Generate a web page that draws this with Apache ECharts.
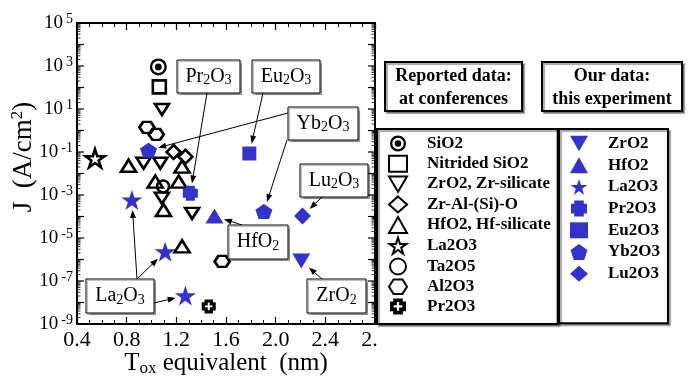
<!DOCTYPE html>
<html><head><meta charset="utf-8">
<script src="https://cdn.jsdelivr.net/npm/echarts@6/dist/echarts.min.js"></script>
<style>html,body{margin:0;padding:0;background:#fff}#c{width:689px;height:377px}</style>
</head><body><div id="c"></div>
<script>
// ---- Data: [Tox equivalent (nm), J (A/cm2)] ----
// Reported data at conferences
const sio2 = [[1.055, 910]];
const nitridedSio2 = [[1.063, 107]];
const zro2Silicate = [[1.084, 9.5], [0.936, 0.030], [1.071, 0.030], [1.084, 7.1e-4], [1.327, 1.4e-4]];
const zrAlSiO = [[1.178, 0.10], [1.273, 0.060]];
const hfo2Silicate = [[0.815, 0.023], [1.246, 0.021], [1.03, 0.0042], [1.219, 0.0042], [1.097, 2.0e-4], [1.246, 4.1e-6]];
const la2o3Reported = [[0.545, 0.051]];
const ta2o5 = [[1.093, 0.0025]];
const al2o3 = [[0.963, 1.4], [1.038, 0.66], [1.569, 8.1e-7]];
const pr2o3Reported = [[1.461, 6.6e-9]];
// Our data: this experiment
const zro2Ours = [[2.206, 8.5e-7]];
const hfo2Ours = [[1.507, 1.05e-4]];
const la2o3Ours = [[0.842, 5.9e-4], [1.11, 2.3e-6], [1.273, 2.1e-8]];
const pr2o3Ours = [[1.313, 0.0012]];
const eu2o3Ours = [[1.788, 0.085]];
const yb2o3Ours = [[0.976, 0.12], [1.905, 1.7e-4]];
const lu2o3Ours = [[2.216, 1.05e-4]];
// Axis ticks
const xMin = 0.4, xMax = 2.8, xStep = 0.4;
const yMinExp = -9, yMaxExp = 5;

const FONT = 'Liberation Serif';
const BLUE = '#3333cc';
const SYM = {
  ringDot: 'path://M10,0A10,10 0 1,1 10,20A10,10 0 1,1 10,0Z M10,2.8A7.2,7.2 0 1,0 10,17.2A7.2,7.2 0 1,0 10,2.8Z M10,6A4,4 0 1,1 10,14A4,4 0 1,1 10,6Z',
  downTri: 'path://M0,0L20,0L10,17Z',
  star: 'path://M50,0L61.23,34.55L97.55,34.55L68.17,55.9L79.39,90.45L50,69.1L20.61,90.45L31.83,55.9L2.45,34.55L38.77,34.55Z',
  pentagon: 'path://M50,0L97.55,34.55L79.39,90.45L20.61,90.45L2.45,34.55Z',
  hexagon: 'path://M5,0L15,0L20,8L15,16L5,16L0,8Z',
  plus: 'path://M2,0H8V2H10V8H8V10H2V8H0V2H2Z',
  plusHole: 'path://M2,0H8V2H10V8H8V10H2V8H0V2H2Z M4.3,2.3V4.3H2.3V5.7H4.3V7.7H5.7V5.7H7.7V4.3H5.7V2.3Z'
};

function openS(name, data, symbol, size) {
  return {type: 'scatter', name, data, symbol, symbolSize: size, z: 3,
    itemStyle: {color: 'rgba(255,255,255,0)', borderColor: '#000', borderWidth: 2.6, opacity: 1}};
}
function blackS(name, data, symbol, size) {
  return {type: 'scatter', name, data, symbol, symbolSize: size, z: 3,
    itemStyle: {color: '#000', borderWidth: 0, opacity: 1}};
}
function blueS(name, data, symbol, size) {
  return {type: 'scatter', name: 'our:' + name, data, symbol, symbolSize: size, z: 4,
    itemStyle: {color: BLUE, borderWidth: 0, opacity: 1}};
}

const series = [
  blackS('SiO2', sio2, SYM.ringDot, 17),
  openS('Nitrided SiO2', nitridedSio2, 'rect', 13),
  openS('ZrO2, Zr-silicate', zro2Silicate, SYM.downTri, [14, 11]),
  openS('Zr-Al-(Si)-O', zrAlSiO, 'diamond', 14),
  openS('HfO2, Hf-silicate', hfo2Silicate, 'triangle', [15, 12]),
  openS('La2O3', la2o3Reported, SYM.star, [19, 18]),
  openS('Ta2O5', ta2o5, 'circle', 12),
  openS('Al2O3', al2o3, SYM.hexagon, [15, 11]),
  blackS('Pr2O3', pr2o3Reported, SYM.plusHole, 14),
  blueS('ZrO2', zro2Ours, SYM.downTri, [18, 15]),
  blueS('HfO2', hfo2Ours, 'triangle', [18, 15]),
  blueS('La2O3', la2o3Ours, SYM.star, [21, 20]),
  blueS('Pr2O3', pr2o3Ours, SYM.plus, 15),
  blueS('Eu2O3', eu2o3Ours, 'rect', 14),
  blueS('Yb2O3', yb2o3Ours, SYM.pentagon, [17, 15]),
  blueS('Lu2O3', lu2o3Ours, 'diamond', 17)
];

const axisLine = {show: true, onZero: false, lineStyle: {color: '#000', width: 2}};
const xAxisBase = {type: 'value', min: xMin, max: xMax, interval: xStep,
  axisLine, splitLine: {show: false},
  axisTick: {inside: true, length: 7, lineStyle: {color: '#000', width: 1.2}},
  minorTick: {show: true, splitNumber: 4, length: 4, lineStyle: {color: '#000', width: 1}}};
const yAxisBase = {type: 'log', logBase: 10, min: Math.pow(10, yMinExp), max: Math.pow(10, yMaxExp),
  interval: 1, splitNumber: 14, axisLine, splitLine: {show: false},
  axisTick: {show: false}, minorTick: {show: false}};

const chart = echarts.init(document.getElementById('c'));
chart.setOption({
  animation: false,
  backgroundColor: '#fff',
  grid: {left: 77, right: 314, top: 23, bottom: 53, containLabel: false, outerBoundsMode: 'none'},
  xAxis: [
    Object.assign({}, xAxisBase, {position: 'bottom',
      axisLabel: {color: '#000', fontFamily: FONT, fontSize: 22, margin: 5, formatter: v => v.toFixed(1)},
      name: '{t|T}{s|ox}{t| equivalent  (nm)}', nameLocation: 'middle', nameGap: 26, nameMoveOverlap: false,
      nameTextStyle: {rich: {
        t: {fontFamily: FONT, fontSize: 25, color: '#000', lineHeight: 27},
        s: {fontFamily: FONT, fontSize: 17, color: '#000', verticalAlign: 'bottom', lineHeight: 14}}}}),
    Object.assign({}, xAxisBase, {position: 'top', axisLabel: {show: false}})
  ],
  yAxis: [
    Object.assign({}, yAxisBase, {position: 'left',
      axisLabel: {margin: 4, formatter: v => {
          const e = Math.round(Math.log10(v));
          return (e % 2 === 0) ? '' : '{b|10}{s|' + e + '}';
        },
        rich: {
          b: {fontFamily: FONT, fontSize: 19, color: '#000', lineHeight: 22},
          s: {fontFamily: FONT, fontSize: 14, color: '#000', verticalAlign: 'top', lineHeight: 12, padding: [0, 0, 0, 3]}}},
      name: '{t|J  (A/cm}{p|2}{t|)}', nameLocation: 'middle', nameGap: 38, nameRotate: 90, nameMoveOverlap: false,
      nameTextStyle: {padding: [0, 0, 0, 33], rich: {
        t: {fontFamily: FONT, fontSize: 27, color: '#000', lineHeight: 30},
        p: {fontFamily: FONT, fontSize: 17, color: '#000', verticalAlign: 'top', lineHeight: 15}}}}),
    Object.assign({}, yAxisBase, {position: 'right', axisLabel: {show: false}})
  ],
  legend: [
    {orient: 'vertical', left: 377, top: 129, itemWidth: 18, itemHeight: 16, itemGap: 2.7, z: 12,
      padding: [6, 7, 9, 11], borderColor: '#000', borderWidth: 2, backgroundColor: '#fff',
      shadowColor: 'rgba(0,0,0,0.35)', shadowOffsetX: 2, shadowOffsetY: 2, shadowBlur: 1,
      textStyle: {fontFamily: FONT, fontWeight: 'bold', fontSize: 17, color: '#000', lineHeight: 16, padding: [0, 0, 0, 15]},
      data: ['SiO2', 'Nitrided SiO2', 'ZrO2, Zr-silicate', 'Zr-Al-(Si)-O', 'HfO2, Hf-silicate', 'La2O3', 'Ta2O5', 'Al2O3', 'Pr2O3']},
    {orient: 'vertical', left: 559, top: 129, itemWidth: 18, itemHeight: 16, itemGap: 4.7, z: 12,
      padding: [6, 8, 41, 11], borderColor: '#000', borderWidth: 2, backgroundColor: '#fff',
      shadowColor: 'rgba(0,0,0,0.35)', shadowOffsetX: 2, shadowOffsetY: 2, shadowBlur: 1,
      formatter: n => n.replace('our:', ''),
      textStyle: {fontFamily: FONT, fontWeight: 'bold', fontSize: 17, color: '#000', lineHeight: 16, padding: [0, 0, 0, 15]},
      data: ['ZrO2', 'HfO2', 'La2O3', 'Pr2O3', 'Eu2O3', 'Yb2O3', 'Lu2O3'].map(n => 'our:' + n)}
  ],
  series
});

// ---- decorations computed from the axes ----
const g = [];
const xl = chart.convertToPixel({xAxisIndex: 0}, xMin);
const xr = chart.convertToPixel({xAxisIndex: 0}, xMax);
for (let e = yMinExp; e <= yMaxExp; e++) {
  const py = chart.convertToPixel({yAxisIndex: 0}, Math.pow(10, e));
  g.push({type: 'line', z: 5, shape: {x1: xl, y1: py, x2: xl + 7, y2: py}, style: {stroke: '#000', lineWidth: 1.2}});
  g.push({type: 'line', z: 5, shape: {x1: xr - 7, y1: py, x2: xr, y2: py}, style: {stroke: '#000', lineWidth: 1.2}});
  if (e < yMaxExp) {
    for (let k = 2; k <= 9; k++) {
      const pm = chart.convertToPixel({yAxisIndex: 0}, k * Math.pow(10, e));
      g.push({type: 'line', z: 5, shape: {x1: xl, y1: pm, x2: xl + 3.5, y2: pm}, style: {stroke: '#000', lineWidth: 0.8}});
      g.push({type: 'line', z: 5, shape: {x1: xr - 3.5, y1: pm, x2: xr, y2: pm}, style: {stroke: '#000', lineWidth: 0.8}});
    }
  }
}
// white panel behind the legends that hides the end of the last x label, as in the original
g.push({type: 'rect', z: 8, shape: {x: 378, y: 326, width: 311, height: 24}, style: {fill: '#fff'}});

const annoRich = {
  n: {fontFamily: FONT, fontSize: 20, color: '#000', lineHeight: 22},
  s: {fontFamily: FONT, fontSize: 14, color: '#000', verticalAlign: 'bottom', lineHeight: 12}
};
const annotations = [
  {text: '{n|Pr}{s|2}{n|O}{s|3}', rect: [177, 60, 63, 33], arrows: [[[207, 93], pr2o3Ours[0]]]},
  {text: '{n|Eu}{s|2}{n|O}{s|3}', rect: [252, 60, 68, 33], arrows: [[[263, 93], eu2o3Ours[0]]]},
  {text: '{n|Yb}{s|2}{n|O}{s|3}', rect: [288, 107, 70, 33], arrows: [[[288, 113], yb2o3Ours[0]], [[287, 140], yb2o3Ours[1]]]},
  {text: '{n|Lu}{s|2}{n|O}{s|3}', rect: [300, 164, 68, 33], arrows: [[[322, 197], lu2o3Ours[0]]]},
  {text: '{n|HfO}{s|2}', rect: [228, 225, 60, 34], arrows: [[[242, 225], hfo2Ours[0]]]},
  {text: '{n|ZrO}{s|2}', rect: [307, 279, 59, 34], arrows: [[[322, 279], zro2Ours[0]]]},
  {text: '{n|La}{s|2}{n|O}{s|3}', rect: [86, 279, 68, 34], arrows: [[[137, 279], la2o3Ours[0]], [[137, 279], la2o3Ours[1]], [[154, 303], la2o3Ours[2]]]}
];
annotations.forEach(a => {
  const [bx, by, bw, bh] = a.rect;
  g.push({type: 'rect', z: 20, shape: {x: bx, y: by, width: bw, height: bh},
    style: {fill: '#fff', stroke: '#000', lineWidth: 1, shadowColor: 'rgba(0,0,0,0.3)', shadowOffsetX: 1.5, shadowOffsetY: 1.5, shadowBlur: 1}});
  g.push({type: 'text', z: 21, style: {text: a.text, rich: annoRich, x: bx + bw / 2, y: by + bh / 2, align: 'center', verticalAlign: 'middle'}});
  a.arrows.forEach(([s, pt]) => {
    const c = chart.convertToPixel({gridIndex: 0}, pt);
    const dx = c[0] - s[0], dy = c[1] - s[1];
    const len = Math.sqrt(dx * dx + dy * dy);
    const ux = dx / len, uy = dy / len;
    const gap = 10;
    const ex = c[0] - ux * gap, ey = c[1] - uy * gap;
    const L = 8, W = 3;
    g.push({type: 'line', z: 19, shape: {x1: s[0], y1: s[1], x2: ex - ux * (L - 1), y2: ey - uy * (L - 1)}, style: {stroke: '#000', lineWidth: 1}});
    g.push({type: 'polygon', z: 19, shape: {points: [[ex, ey], [ex - ux * L - uy * W, ey - uy * L + ux * W], [ex - ux * L + uy * W, ey - uy * L - ux * W]]}, style: {fill: '#000'}});
  });
});

// header boxes
const headers = [
  {text: 'Reported data:\nat conferences', rect: [385, 62, 137, 49]},
  {text: 'Our data:\nthis experiment', rect: [542, 62, 140, 49]}
];
headers.forEach(h => {
  const [bx, by, bw, bh] = h.rect;
  g.push({type: 'rect', z: 20, shape: {x: bx, y: by, width: bw, height: bh},
    style: {fill: '#fff', stroke: '#000', lineWidth: 2, shadowColor: 'rgba(0,0,0,0.35)', shadowOffsetX: 2, shadowOffsetY: 2, shadowBlur: 1}});
  g.push({type: 'text', z: 21, style: {text: h.text, x: bx + bw / 2, y: by + bh / 2 + 1, align: 'center', verticalAlign: 'middle',
    font: 'bold 18px "Liberation Serif"', lineHeight: 23, fill: '#000'}});
});

chart.setOption({graphic: g});
</script></body></html>
